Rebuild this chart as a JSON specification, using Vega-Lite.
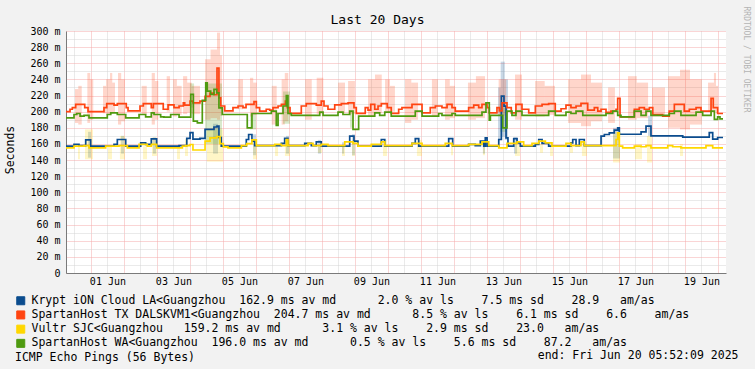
{
  "$schema": "https://vega.github.io/schema/vega-lite/v6.json",
  "width": 660,
  "height": 242,
  "autosize": {"type": "none"},
  "padding": {"left": 66, "top": 31, "right": 29, "bottom": 96},
  "background": "#F2F2F2",
  "config": {
    "view": {"stroke": null, "fill": "#FFFFFF"},
    "font": "DejaVu Sans Mono"
  },
  "title": {
    "text": "Last 20 Days",
    "anchor": "middle",
    "frame": "group",
    "dx": -18.5,
    "offset": 0,
    "dy": 31,
    "baseline": "alphabetic",
    "font": "DejaVu Sans Mono",
    "fontSize": 13,
    "fontWeight": "normal",
    "color": "#000000"
  },
  "datasets": {
    "lines": [
      {"host":"Krypt","t":5.87,"v":157.3},{"host":"Krypt","t":11.7,"v":159.4},{"host":"Krypt","t":15.3,"v":158},{"host":"Krypt","t":20.2,"v":165},{"host":"Krypt","t":23.8,"v":157.3},{"host":"Krypt","t":40.8,"v":159.4},{"host":"Krypt","t":43.2,"v":165.5},{"host":"Krypt","t":49.3,"v":157.3},{"host":"Krypt","t":60.2,"v":161.4},{"host":"Krypt","t":63.8,"v":159.4},{"host":"Krypt","t":67.9,"v":166.3},{"host":"Krypt","t":71.8,"v":157.3},{"host":"Krypt","t":88.1,"v":158},{"host":"Krypt","t":93.7,"v":167},{"host":"Krypt","t":96.1,"v":174},{"host":"Krypt","t":98.2,"v":166},{"host":"Krypt","t":103.3,"v":167},{"host":"Krypt","t":107.0,"v":178},{"host":"Krypt","t":113.5,"v":181},{"host":"Krypt","t":115.7,"v":182},{"host":"Krypt","t":117.1,"v":168},{"host":"Krypt","t":118.8,"v":157.3},{"host":"Krypt","t":137.0,"v":165.5},{"host":"Krypt","t":138.7,"v":171.7},{"host":"Krypt","t":141.1,"v":163.5},{"host":"Krypt","t":143.1,"v":158},{"host":"Krypt","t":162.5,"v":160.8},{"host":"Krypt","t":164.9,"v":166.9},{"host":"Krypt","t":167.3,"v":158},{"host":"Krypt","t":179.5,"v":160.8},{"host":"Krypt","t":184.3,"v":158},{"host":"Krypt","t":187.9,"v":162.5},{"host":"Krypt","t":191.5,"v":157.3},{"host":"Krypt","t":212.2,"v":169.7},{"host":"Krypt","t":215.3,"v":163.5},{"host":"Krypt","t":218.2,"v":157.3},{"host":"Krypt","t":235.2,"v":165.5},{"host":"Krypt","t":237.7,"v":157.3},{"host":"Krypt","t":257.5,"v":160.8},{"host":"Krypt","t":259.9,"v":166.5},{"host":"Krypt","t":262.4,"v":157.3},{"host":"Krypt","t":284.2,"v":166.5},{"host":"Krypt","t":287.1,"v":157.3},{"host":"Krypt","t":298.7,"v":159.4},{"host":"Krypt","t":303.5,"v":158},{"host":"Krypt","t":307.2,"v":163.5},{"host":"Krypt","t":309.7,"v":157.3},{"host":"Krypt","t":310.8,"v":167.6},{"host":"Krypt","t":312.1,"v":157.3},{"host":"Krypt","t":320.6,"v":165.5},{"host":"Krypt","t":322.5,"v":219.3},{"host":"Krypt","t":324.4,"v":206.9},{"host":"Krypt","t":325.9,"v":167.6},{"host":"Krypt","t":327.3,"v":157.3},{"host":"Krypt","t":331.5,"v":166.5},{"host":"Krypt","t":333.9,"v":161.4},{"host":"Krypt","t":336.3,"v":157.3},{"host":"Krypt","t":347.2,"v":159.4},{"host":"Krypt","t":349.7,"v":165.5},{"host":"Krypt","t":352.1,"v":160.8},{"host":"Krypt","t":356.9,"v":157.3},{"host":"Krypt","t":373.1,"v":161.4},{"host":"Krypt","t":374.4,"v":165.5},{"host":"Krypt","t":376.8,"v":158},{"host":"Krypt","t":379.2,"v":165.5},{"host":"Krypt","t":382.8,"v":158},{"host":"Krypt","t":395.0,"v":169.7},{"host":"Krypt","t":397.4,"v":171.7},{"host":"Krypt","t":401.0,"v":173.8},{"host":"Krypt","t":404.6,"v":177.1},{"host":"Krypt","t":407.1,"v":180},{"host":"Krypt","t":408.3,"v":172},{"host":"Krypt","t":424.1,"v":175},{"host":"Krypt","t":427.7,"v":182},{"host":"Krypt","t":431.3,"v":170},{"host":"Krypt","t":454.4,"v":168.5},{"host":"Krypt","t":473.7,"v":174},{"host":"Krypt","t":476.2,"v":166},{"host":"Krypt","t":479.8,"v":168},{"host":"Krypt","t":483.7,"v":168},

      {"host":"TX","t":5.87,"v":200},{"host":"TX","t":8.8,"v":203},{"host":"TX","t":10.5,"v":205},{"host":"TX","t":12.9,"v":209},{"host":"TX","t":19.5,"v":205},{"host":"TX","t":21.9,"v":200},{"host":"TX","t":33.5,"v":205},{"host":"TX","t":35.5,"v":210},{"host":"TX","t":40.8,"v":208},{"host":"TX","t":43.2,"v":210},{"host":"TX","t":49.7,"v":205},{"host":"TX","t":51.0,"v":201},{"host":"TX","t":59.7,"v":207},{"host":"TX","t":62.1,"v":210},{"host":"TX","t":67.9,"v":205},{"host":"TX","t":69.4,"v":210},{"host":"TX","t":76.6,"v":203},{"host":"TX","t":80.1,"v":208.5},{"host":"TX","t":84.4,"v":205},{"host":"TX","t":88.1,"v":207},{"host":"TX","t":91.2,"v":211},{"host":"TX","t":92.2,"v":208},{"host":"TX","t":96.1,"v":213},{"host":"TX","t":98.2,"v":211},{"host":"TX","t":103.3,"v":213},{"host":"TX","t":107.0,"v":219},{"host":"TX","t":110.6,"v":223},{"host":"TX","t":113.5,"v":221},{"host":"TX","t":115.7,"v":254},{"host":"TX","t":117.1,"v":217},{"host":"TX","t":118.4,"v":207},{"host":"TX","t":121.3,"v":201},{"host":"TX","t":127.3,"v":205},{"host":"TX","t":131.0,"v":207},{"host":"TX","t":134.6,"v":205},{"host":"TX","t":136.8,"v":209},{"host":"TX","t":142.6,"v":212.5},{"host":"TX","t":144.3,"v":205},{"host":"TX","t":146.7,"v":200.7},{"host":"TX","t":151.5,"v":203},{"host":"TX","t":154.0,"v":202},{"host":"TX","t":156.4,"v":205},{"host":"TX","t":160.1,"v":207},{"host":"TX","t":162.5,"v":209},{"host":"TX","t":165.4,"v":213},{"host":"TX","t":166.8,"v":205},{"host":"TX","t":168.8,"v":198},{"host":"TX","t":177.0,"v":207},{"host":"TX","t":180.6,"v":210},{"host":"TX","t":187.9,"v":208},{"host":"TX","t":191.5,"v":213},{"host":"TX","t":193.5,"v":207},{"host":"TX","t":196.4,"v":203},{"host":"TX","t":201.3,"v":208.5},{"host":"TX","t":206.1,"v":210},{"host":"TX","t":211.0,"v":211},{"host":"TX","t":215.3,"v":205},{"host":"TX","t":217.0,"v":198},{"host":"TX","t":223.5,"v":205},{"host":"TX","t":225.5,"v":202},{"host":"TX","t":227.5,"v":209},{"host":"TX","t":230.4,"v":203},{"host":"TX","t":232.8,"v":207},{"host":"TX","t":235.2,"v":210},{"host":"TX","t":239.5,"v":205},{"host":"TX","t":242.4,"v":198},{"host":"TX","t":247.8,"v":203},{"host":"TX","t":250.2,"v":205},{"host":"TX","t":257.5,"v":209},{"host":"TX","t":264.8,"v":198.6},{"host":"TX","t":270.8,"v":205},{"host":"TX","t":274.5,"v":207},{"host":"TX","t":279.3,"v":205},{"host":"TX","t":283.0,"v":209},{"host":"TX","t":286.6,"v":205},{"host":"TX","t":289.0,"v":200.7},{"host":"TX","t":298.7,"v":205},{"host":"TX","t":302.4,"v":208},{"host":"TX","t":306.0,"v":205},{"host":"TX","t":308.4,"v":209},{"host":"TX","t":312.1,"v":205},{"host":"TX","t":313.7,"v":198.6},{"host":"TX","t":319.3,"v":205},{"host":"TX","t":321.0,"v":201},{"host":"TX","t":323.0,"v":211},{"host":"TX","t":326.6,"v":205},{"host":"TX","t":329.7,"v":198.6},{"host":"TX","t":333.1,"v":209},{"host":"TX","t":337.5,"v":203},{"host":"TX","t":342.4,"v":198.6},{"host":"TX","t":347.2,"v":207},{"host":"TX","t":352.1,"v":209},{"host":"TX","t":356.9,"v":210},{"host":"TX","t":361.7,"v":200.7},{"host":"TX","t":365.9,"v":203.6},{"host":"TX","t":369.5,"v":208},{"host":"TX","t":373.1,"v":205},{"host":"TX","t":376.8,"v":207},{"host":"TX","t":380.4,"v":210.3},{"host":"TX","t":385.3,"v":202},{"host":"TX","t":390.1,"v":205},{"host":"TX","t":392.6,"v":200.7},{"host":"TX","t":395.0,"v":203},{"host":"TX","t":398.6,"v":199},{"host":"TX","t":402.2,"v":200.7},{"host":"TX","t":405.9,"v":203},{"host":"TX","t":407.1,"v":216.5},{"host":"TX","t":408.8,"v":193.6},{"host":"TX","t":419.2,"v":203},{"host":"TX","t":422.8,"v":205},{"host":"TX","t":426.5,"v":203},{"host":"TX","t":430.1,"v":205},{"host":"TX","t":432.6,"v":196.5},{"host":"TX","t":439.8,"v":194.5},{"host":"TX","t":444.6,"v":200.7},{"host":"TX","t":448.3,"v":209},{"host":"TX","t":455.5,"v":200.7},{"host":"TX","t":459.2,"v":203},{"host":"TX","t":464.1,"v":205},{"host":"TX","t":467.7,"v":200.7},{"host":"TX","t":475.0,"v":216.5},{"host":"TX","t":476.6,"v":205},{"host":"TX","t":479.8,"v":197.7},{"host":"TX","t":483.7,"v":197.7},

      {"host":"Vultr","t":5.87,"v":155.2},{"host":"Vultr","t":11.7,"v":157.3},{"host":"Vultr","t":19.0,"v":158},{"host":"Vultr","t":22.6,"v":155.2},{"host":"Vultr","t":34.7,"v":157.3},{"host":"Vultr","t":44.4,"v":158},{"host":"Vultr","t":50.5,"v":155.2},{"host":"Vultr","t":59.0,"v":159.4},{"host":"Vultr","t":65.0,"v":157.3},{"host":"Vultr","t":67.9,"v":159.4},{"host":"Vultr","t":71.8,"v":155.2},{"host":"Vultr","t":90.5,"v":157.3},{"host":"Vultr","t":92.9,"v":158},{"host":"Vultr","t":96.1,"v":159.3},{"host":"Vultr","t":98.2,"v":152.5},{"host":"Vultr","t":107.0,"v":163.4},{"host":"Vultr","t":110.6,"v":167.6},{"host":"Vultr","t":115.5,"v":169},{"host":"Vultr","t":117.9,"v":160.4},{"host":"Vultr","t":120.3,"v":156.4},{"host":"Vultr","t":123.7,"v":155.2},{"host":"Vultr","t":133.4,"v":158},{"host":"Vultr","t":137.3,"v":160.4},{"host":"Vultr","t":141.1,"v":165},{"host":"Vultr","t":144.3,"v":158},{"host":"Vultr","t":157.7,"v":159.4},{"host":"Vultr","t":162.5,"v":158},{"host":"Vultr","t":166.1,"v":165.5},{"host":"Vultr","t":167.3,"v":158},{"host":"Vultr","t":181.9,"v":160.8},{"host":"Vultr","t":185.5,"v":158},{"host":"Vultr","t":191.5,"v":159.4},{"host":"Vultr","t":196.4,"v":158},{"host":"Vultr","t":208.6,"v":162.5},{"host":"Vultr","t":214.6,"v":160.8},{"host":"Vultr","t":218.2,"v":157.3},{"host":"Vultr","t":227.9,"v":159.4},{"host":"Vultr","t":235.2,"v":162.5},{"host":"Vultr","t":237.7,"v":158},{"host":"Vultr","t":257.5,"v":160.8},{"host":"Vultr","t":264.8,"v":158},{"host":"Vultr","t":281.7,"v":160.8},{"host":"Vultr","t":286.6,"v":158},{"host":"Vultr","t":298.7,"v":159.4},{"host":"Vultr","t":308.4,"v":162.5},{"host":"Vultr","t":313.3,"v":158},{"host":"Vultr","t":320.6,"v":155.2},{"host":"Vultr","t":326.6,"v":160.8},{"host":"Vultr","t":333.9,"v":162.5},{"host":"Vultr","t":338.7,"v":158},{"host":"Vultr","t":344.8,"v":160.8},{"host":"Vultr","t":349.7,"v":163.5},{"host":"Vultr","t":354.5,"v":161.4},{"host":"Vultr","t":359.3,"v":157.3},{"host":"Vultr","t":369.5,"v":160.8},{"host":"Vultr","t":373.1,"v":158},{"host":"Vultr","t":380.4,"v":162.5},{"host":"Vultr","t":382.8,"v":158},{"host":"Vultr","t":405.9,"v":165.5},{"host":"Vultr","t":407.1,"v":173.8},{"host":"Vultr","t":408.3,"v":157.3},{"host":"Vultr","t":410.7,"v":155.2},{"host":"Vultr","t":419.2,"v":157.3},{"host":"Vultr","t":424.1,"v":156.5},{"host":"Vultr","t":427.7,"v":158},{"host":"Vultr","t":431.3,"v":155.2},{"host":"Vultr","t":443.5,"v":158},{"host":"Vultr","t":447.1,"v":156.5},{"host":"Vultr","t":453.1,"v":155.2},{"host":"Vultr","t":471.3,"v":158},{"host":"Vultr","t":476.2,"v":155.2},{"host":"Vultr","t":483.7,"v":155.2},

      {"host":"WA","t":5.87,"v":192.4},{"host":"WA","t":11.7,"v":196.5},{"host":"WA","t":13.7,"v":197.7},{"host":"WA","t":16.1,"v":194.5},{"host":"WA","t":19.0,"v":195.5},{"host":"WA","t":22.6,"v":192.4},{"host":"WA","t":35.9,"v":196.5},{"host":"WA","t":38.4,"v":198.6},{"host":"WA","t":43.2,"v":196.5},{"host":"WA","t":49.3,"v":192.4},{"host":"WA","t":59.0,"v":196.5},{"host":"WA","t":63.8,"v":193.6},{"host":"WA","t":67.9,"v":198.6},{"host":"WA","t":69.9,"v":196.5},{"host":"WA","t":74.7,"v":193.6},{"host":"WA","t":77.1,"v":193.2},{"host":"WA","t":82.0,"v":196.5},{"host":"WA","t":88.1,"v":193.2},{"host":"WA","t":96.6,"v":221.4},{"host":"WA","t":98.5,"v":188.3},{"host":"WA","t":101.4,"v":186.2},{"host":"WA","t":105.0,"v":214},{"host":"WA","t":107.5,"v":235.8},{"host":"WA","t":108.6,"v":225.5},{"host":"WA","t":111.1,"v":221.4},{"host":"WA","t":113.5,"v":227.6},{"host":"WA","t":115.5,"v":223.4},{"host":"WA","t":117.1,"v":204.8},{"host":"WA","t":119.5,"v":196.5},{"host":"WA","t":137.7,"v":180},{"host":"WA","t":141.1,"v":197.7},{"host":"WA","t":155.2,"v":200.7},{"host":"WA","t":158.8,"v":183},{"host":"WA","t":160.1,"v":197.7},{"host":"WA","t":163.7,"v":207},{"host":"WA","t":166.1,"v":220},{"host":"WA","t":167.3,"v":197.7},{"host":"WA","t":169.7,"v":195.5},{"host":"WA","t":190.4,"v":199.5},{"host":"WA","t":192.8,"v":195.5},{"host":"WA","t":203.7,"v":199.5},{"host":"WA","t":207.3,"v":196.5},{"host":"WA","t":212.2,"v":200.7},{"host":"WA","t":214.6,"v":178},{"host":"WA","t":218.7,"v":194.5},{"host":"WA","t":230.4,"v":198.6},{"host":"WA","t":234.0,"v":195.5},{"host":"WA","t":237.7,"v":199.5},{"host":"WA","t":242.4,"v":194.5},{"host":"WA","t":259.9,"v":200.7},{"host":"WA","t":264.8,"v":194.5},{"host":"WA","t":276.9,"v":197.7},{"host":"WA","t":279.3,"v":195.5},{"host":"WA","t":286.6,"v":197.7},{"host":"WA","t":289.0,"v":195.5},{"host":"WA","t":308.4,"v":199.5},{"host":"WA","t":311.3,"v":211},{"host":"WA","t":313.7,"v":189.5},{"host":"WA","t":314.5,"v":195.5},{"host":"WA","t":323.5,"v":180},{"host":"WA","t":326.6,"v":200.7},{"host":"WA","t":330.2,"v":195.5},{"host":"WA","t":333.1,"v":200.7},{"host":"WA","t":337.5,"v":195.5},{"host":"WA","t":356.9,"v":200.7},{"host":"WA","t":361.7,"v":195.5},{"host":"WA","t":369.5,"v":199.5},{"host":"WA","t":373.1,"v":197.7},{"host":"WA","t":376.8,"v":200.7},{"host":"WA","t":381.7,"v":195.5},{"host":"WA","t":398.6,"v":197.7},{"host":"WA","t":403.5,"v":200.7},{"host":"WA","t":407.1,"v":195.5},{"host":"WA","t":409.5,"v":193.6},{"host":"WA","t":419.2,"v":200.7},{"host":"WA","t":424.1,"v":195.5},{"host":"WA","t":427.7,"v":200.7},{"host":"WA","t":431.3,"v":195.5},{"host":"WA","t":444.6,"v":197.7},{"host":"WA","t":448.3,"v":200.7},{"host":"WA","t":453.1,"v":195.5},{"host":"WA","t":464.1,"v":199.5},{"host":"WA","t":468.9,"v":195.5},{"host":"WA","t":475.0,"v":200.7},{"host":"WA","t":477.4,"v":190.4},{"host":"WA","t":479.8,"v":193.6},{"host":"WA","t":481.5,"v":191},{"host":"WA","t":483.7,"v":191}
    ],
    "smoke": [
      {"host":"Krypt","t":21.9,"t2":24.1,"lo":143,"hi":175},{"host":"Krypt","t":45.9,"t2":48.1,"lo":148,"hi":170},{"host":"Krypt","t":69.1,"t2":71.3,"lo":148,"hi":168},{"host":"Krypt","t":112.8,"t2":116.4,"lo":148,"hi":185},{"host":"Krypt","t":141.9,"t2":144.1,"lo":146,"hi":172},{"host":"Krypt","t":165.9,"t2":168.1,"lo":148,"hi":170},{"host":"Krypt","t":189.1,"t2":191.3,"lo":148,"hi":165},{"host":"Krypt","t":206.6,"t2":208.1,"lo":148,"hi":162},{"host":"Krypt","t":213.9,"t2":216.0,"lo":146,"hi":172},{"host":"Krypt","t":309.1,"t2":310.6,"lo":148,"hi":163},{"host":"Krypt","t":320.1,"t2":322.0,"lo":165,"hi":230},{"host":"Krypt","t":322.0,"t2":325.0,"lo":169,"hi":262},{"host":"Krypt","t":325.0,"t2":327.3,"lo":165,"hi":240},{"host":"Krypt","t":331.7,"t2":333.9,"lo":148,"hi":168},{"host":"Krypt","t":403.7,"t2":408.8,"lo":142,"hi":180},{"host":"Krypt","t":429.2,"t2":432.1,"lo":170,"hi":195},

      {"host":"TX","t":12.4,"t2":14.8,"lo":186,"hi":228},{"host":"TX","t":14.8,"t2":17.3,"lo":184,"hi":232},{"host":"TX","t":21.4,"t2":23.5,"lo":186,"hi":248},{"host":"TX","t":23.5,"t2":25.7,"lo":190,"hi":240},{"host":"TX","t":32.8,"t2":35.0,"lo":198,"hi":232},{"host":"TX","t":35.0,"t2":37.9,"lo":196,"hi":240},{"host":"TX","t":37.9,"t2":39.5,"lo":197,"hi":248},{"host":"TX","t":39.5,"t2":41.5,"lo":199,"hi":236},{"host":"TX","t":43.7,"t2":46.0,"lo":184,"hi":248},{"host":"TX","t":46.0,"t2":48.8,"lo":188,"hi":240},{"host":"TX","t":60.9,"t2":64.6,"lo":197,"hi":232},{"host":"TX","t":68.2,"t2":70.5,"lo":184,"hi":248},{"host":"TX","t":70.5,"t2":73.0,"lo":190,"hi":238},{"host":"TX","t":79.1,"t2":81.5,"lo":200,"hi":244},{"host":"TX","t":83.7,"t2":86.5,"lo":194,"hi":240},{"host":"TX","t":86.5,"t2":90.0,"lo":196,"hi":232},{"host":"TX","t":91.0,"t2":94.0,"lo":197,"hi":244},{"host":"TX","t":94.0,"t2":97.3,"lo":199,"hi":236},{"host":"TX","t":97.3,"t2":103.3,"lo":197,"hi":232},{"host":"TX","t":107.0,"t2":111.0,"lo":190,"hi":265},{"host":"TX","t":111.0,"t2":115.7,"lo":192,"hi":277},{"host":"TX","t":115.7,"t2":117.9,"lo":190,"hi":298},{"host":"TX","t":117.9,"t2":119.3,"lo":195,"hi":270},{"host":"TX","t":131.0,"t2":134.6,"lo":203,"hi":240},{"host":"TX","t":139.7,"t2":142.0,"lo":194,"hi":242},{"host":"TX","t":142.0,"t2":144.6,"lo":196,"hi":236},{"host":"TX","t":155.5,"t2":159.1,"lo":184,"hi":232},{"host":"TX","t":162.7,"t2":165.0,"lo":184,"hi":240},{"host":"TX","t":165.0,"t2":167.5,"lo":188,"hi":248},{"host":"TX","t":179.7,"t2":184.6,"lo":190,"hi":240},{"host":"TX","t":188.2,"t2":193.0,"lo":197,"hi":242},{"host":"TX","t":203.7,"t2":208.8,"lo":198,"hi":236},{"host":"TX","t":211.0,"t2":216.0,"lo":197,"hi":238},{"host":"TX","t":225.5,"t2":230.6,"lo":194,"hi":240},{"host":"TX","t":230.6,"t2":235.5,"lo":198,"hi":246},{"host":"TX","t":237.9,"t2":241.5,"lo":198,"hi":240},{"host":"TX","t":241.5,"t2":245.1,"lo":200,"hi":232},{"host":"TX","t":252.4,"t2":257.0,"lo":186,"hi":240},{"host":"TX","t":257.0,"t2":261.9,"lo":190,"hi":236},{"host":"TX","t":272.0,"t2":276.4,"lo":194,"hi":240},{"host":"TX","t":281.5,"t2":285.0,"lo":190,"hi":240},{"host":"TX","t":285.0,"t2":288.8,"lo":192,"hi":232},{"host":"TX","t":298.2,"t2":304.0,"lo":190,"hi":236},{"host":"TX","t":304.0,"t2":310.6,"lo":192,"hi":244},{"host":"TX","t":320.5,"t2":326.0,"lo":195,"hi":240},{"host":"TX","t":332.4,"t2":337.5,"lo":190,"hi":246},{"host":"TX","t":347.0,"t2":354.0,"lo":194,"hi":238},{"host":"TX","t":354.0,"t2":361.5,"lo":196,"hi":232},{"host":"TX","t":371.0,"t2":380.4,"lo":186,"hi":240},{"host":"TX","t":380.4,"t2":387.7,"lo":182,"hi":246},{"host":"TX","t":387.7,"t2":395.7,"lo":188,"hi":236},{"host":"TX","t":400.1,"t2":405.1,"lo":186,"hi":230},{"host":"TX","t":414.6,"t2":421.0,"lo":190,"hi":244},{"host":"TX","t":421.0,"t2":429.2,"lo":192,"hi":236},{"host":"TX","t":432.1,"t2":441.5,"lo":194,"hi":230},{"host":"TX","t":443.7,"t2":452.4,"lo":180,"hi":244},{"host":"TX","t":452.4,"t2":459.7,"lo":178,"hi":252},{"host":"TX","t":459.7,"t2":468.4,"lo":184,"hi":240},{"host":"TX","t":472.8,"t2":477.1,"lo":200,"hi":236},{"host":"TX","t":477.1,"t2":478.6,"lo":200,"hi":248},{"host":"TX","t":478.6,"t2":480.1,"lo":198,"hi":232},

      {"host":"Vultr","t":14.6,"t2":16.0,"lo":141,"hi":157},{"host":"Vultr","t":19.7,"t2":25.5,"lo":141,"hi":178},{"host":"Vultr","t":36.4,"t2":39.3,"lo":141,"hi":157},{"host":"Vultr","t":45.1,"t2":48.8,"lo":141,"hi":170},{"host":"Vultr","t":61.9,"t2":64.8,"lo":141,"hi":157},{"host":"Vultr","t":68.4,"t2":72.1,"lo":145,"hi":168},{"host":"Vultr","t":86.6,"t2":88.8,"lo":141,"hi":157},{"host":"Vultr","t":92.4,"t2":94.6,"lo":145,"hi":166},{"host":"Vultr","t":108.4,"t2":120.1,"lo":138,"hi":178},{"host":"Vultr","t":141.9,"t2":144.8,"lo":141,"hi":160},{"host":"Vultr","t":157.9,"t2":160.1,"lo":145,"hi":157},{"host":"Vultr","t":165.1,"t2":168.8,"lo":145,"hi":165},{"host":"Vultr","t":189.1,"t2":192.1,"lo":149,"hi":157},{"host":"Vultr","t":206.6,"t2":208.8,"lo":145,"hi":157},{"host":"Vultr","t":213.9,"t2":216.0,"lo":145,"hi":165},{"host":"Vultr","t":236.4,"t2":239.3,"lo":145,"hi":165},{"host":"Vultr","t":261.1,"t2":264.8,"lo":145,"hi":165},{"host":"Vultr","t":285.9,"t2":287.3,"lo":146,"hi":160},{"host":"Vultr","t":309.1,"t2":310.6,"lo":146,"hi":160},{"host":"Vultr","t":332.4,"t2":336.0,"lo":145,"hi":163},{"host":"Vultr","t":350.6,"t2":352.8,"lo":149,"hi":160},{"host":"Vultr","t":357.9,"t2":360.1,"lo":145,"hi":160},{"host":"Vultr","t":372.4,"t2":374.6,"lo":149,"hi":157},{"host":"Vultr","t":381.1,"t2":384.8,"lo":145,"hi":162},{"host":"Vultr","t":403.7,"t2":408.8,"lo":137,"hi":175},{"host":"Vultr","t":419.7,"t2":424.8,"lo":141,"hi":160},{"host":"Vultr","t":428.4,"t2":432.1,"lo":137,"hi":170},{"host":"Vultr","t":452.4,"t2":454.6,"lo":145,"hi":160},

      {"host":"WA","t":96.0,"t2":99.0,"lo":205,"hi":235},{"host":"WA","t":107.0,"t2":119.3,"lo":160,"hi":235},{"host":"WA","t":139.7,"t2":144.1,"lo":178,"hi":198},{"host":"WA","t":163.7,"t2":168.8,"lo":185,"hi":225},{"host":"WA","t":212.4,"t2":215.3,"lo":180,"hi":200},{"host":"WA","t":321.5,"t2":326.6,"lo":175,"hi":205}
    ]
  },
  "encoding": {
    "x": {
      "field": "t",
      "type": "quantitative",
      "scale": {"domain": [5.87, 485.87], "nice": false, "zero": false},
      "axis": {
        "values": [12,24,36,48,60,72,84,96,108,120,132,144,156,168,180,192,204,216,228,240,252,264,276,288,300,312,324,336,348,360,372,384,396,408,420,432,444,456,468,480],
        "labelExpr": "datum.value % 48 == 36 ? ((floor(datum.value / 24) < 10 ? '0' : '') + floor(datum.value / 24) + ' Jun') : ''",
        "labelOverlap": false,
        "labelFlush": false,
        "labelFont": "DejaVu Sans Mono",
        "labelFontSize": 10,
        "labelColor": "#000000",
        "labelPadding": 3,
        "ticks": false,
        "domainColor": "#7A7A7A",
        "grid": true,
        "gridColor": {"condition": {"test": "datum.value % 24 == 0", "value": "#F4AAAA"}, "value": "#D4D4D4"},
        "gridDash": [1, 1],
        "gridOpacity": 1,
        "title": "end: Fri Jun 20 05:52:09 2025",
        "titleX": 672,
        "titleY": 82,
        "titleAlign": "right",
        "titleBaseline": "middle",
        "titleFont": "DejaVu Sans Mono",
        "titleFontSize": 11.5,
        "titleFontWeight": "normal",
        "titleColor": "#000000"
      }
    }
  },
  "layer": [
    {
      "data": {"name": "smoke"},
      "mark": {"type": "rect", "fillOpacity": 0.22, "stroke": null},
      "encoding": {
        "x2": {"field": "t2"},
        "y": {
          "field": "lo",
          "type": "quantitative",
          "scale": {"domain": [0, 300], "nice": false},
          "axis": {
            "values": [0,10,20,30,40,50,60,70,80,90,100,110,120,130,140,150,160,170,180,190,200,210,220,230,240,250,260,270,280,290,300],
            "labelExpr": "datum.value % 20 == 0 ? (datum.value == 0 ? '0' : datum.value + ' m') : ''",
            "labelOverlap": false,
            "labelFlush": false,
            "labelFont": "DejaVu Sans Mono",
            "labelFontSize": 10,
            "labelColor": "#000000",
            "labelPadding": 6,
            "ticks": false,
            "domainColor": "#7A7A7A",
            "grid": true,
            "gridColor": {"condition": {"test": "datum.value % 20 == 0", "value": "#F4AAAA"}, "value": "#D4D4D4"},
            "gridDash": [1, 1],
            "gridOpacity": 1,
            "title": "Seconds",
            "titleX": -55.5,
            "titleY": 118.5,
            "titleAlign": "center",
            "titleBaseline": "middle",
            "titleFont": "DejaVu Sans Mono",
            "titleFontSize": 11.5,
            "titleFontWeight": "normal",
            "titleColor": "#000000"
          }
        },
        "y2": {"field": "hi"},
        "fill": {
          "field": "host",
          "type": "nominal",
          "scale": {"domain": ["Krypt", "TX", "Vultr", "WA"], "range": ["#0B4C8E", "#FF4411", "#FFD700", "#4F9A10"]},
          "legend": {
            "orient": "none",
            "legendX": -51,
            "legendY": 264,
            "direction": "vertical",
            "padding": 0,
            "rowPadding": 1.2,
            "symbolType": "square",
            "symbolSize": 64,
            "symbolStrokeColor": "#000000",
            "symbolStrokeWidth": 1,
            "symbolOpacity": 1,
            "labelOffset": 5,
            "labelFont": "DejaVu Sans Mono",
            "labelFontSize": 11.5,
            "labelColor": "#000000",
            "labelLimit": 900,
            "labelExpr": "datum.label == 'Krypt' ? 'Krypt iON Cloud LA<Guangzhou\u00a0\u00a0162.9 ms av md\u00a0\u00a0\u00a0\u00a0\u00a0\u00a02.0 % av ls\u00a0\u00a0\u00a0\u00a07.5 ms sd\u00a0\u00a0\u00a0\u00a028.9\u00a0\u00a0\u00a0am/as' : datum.label == 'TX' ? 'SpartanHost TX DALSKVM1<Guangzhou\u00a0\u00a0204.7 ms av md\u00a0\u00a0\u00a0\u00a0\u00a0\u00a08.5 % av ls\u00a0\u00a0\u00a0\u00a06.1 ms sd\u00a0\u00a0\u00a0\u00a06.6\u00a0\u00a0\u00a0\u00a0am/as' : datum.label == 'Vultr' ? 'Vultr SJC<Guangzhou\u00a0\u00a0\u00a0159.2 ms av md\u00a0\u00a0\u00a0\u00a0\u00a0\u00a03.1 % av ls\u00a0\u00a0\u00a0\u00a02.9 ms sd\u00a0\u00a0\u00a0\u00a023.0\u00a0\u00a0\u00a0am/as' : 'SpartanHost WA<Guangzhou\u00a0\u00a0196.0 ms av md\u00a0\u00a0\u00a0\u00a0\u00a0\u00a00.5 % av ls\u00a0\u00a0\u00a0\u00a05.6 ms sd\u00a0\u00a0\u00a0\u00a087.2\u00a0\u00a0\u00a0am/as'",
            "title": "ICMP Echo Pings (56 Bytes)",
            "titleOrient": "bottom",
            "titleAnchor": "start",
            "titlePadding": 3,
            "titleLimit": 900,
            "titleFont": "DejaVu Sans Mono",
            "titleFontSize": 11.5,
            "titleFontWeight": "normal",
            "titleColor": "#000000"
          }
        }
      }
    },
    {
      "data": {"name": "lines"},
      "mark": {"type": "line", "interpolate": "step-after", "strokeWidth": 1.7},
      "encoding": {
        "y": {
          "field": "v",
          "type": "quantitative",
          "scale": {"domain": [0, 300], "nice": false},
          "axis": {
            "orient": "right",
            "labels": false,
            "ticks": false,
            "domain": false,
            "grid": false,
            "title": "RRDTOOL / TOBI OETIKER",
            "titleAngle": 90,
            "titleX": 19,
            "titleY": 28,
            "titleAlign": "center",
            "titleBaseline": "middle",
            "titleFont": "DejaVu Sans Mono",
            "titleFontSize": 8,
            "titleFontWeight": "normal",
            "titleColor": "#B4B4B4"
          }
        },
        "stroke": {
          "field": "host",
          "type": "nominal",
          "scale": {"domain": ["Krypt", "TX", "Vultr", "WA"], "range": ["#0B4C8E", "#FF4411", "#FFD700", "#4F9A10"]},
          "legend": null
        }
      }
    }
  ],
  "resolve": {"axis": {"y": "independent"}}
}
